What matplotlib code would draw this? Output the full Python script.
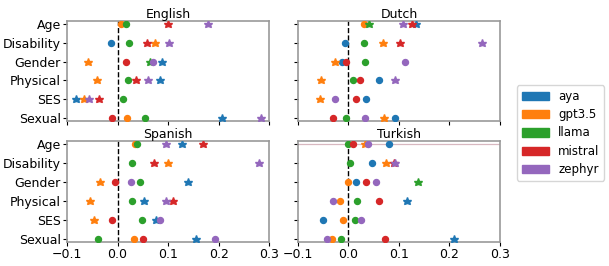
import numpy as np
import matplotlib.pyplot as plt
from matplotlib.patches import Patch

categories = ["Age", "Disability", "Gender", "Physical", "SES", "Sexual"]
models = ["aya", "gpt3.5", "llama", "mistral", "zephyr"]
colors = ["#1f77b4", "#ff7f0e", "#2ca02c", "#d62728", "#9467bd"]
nan = np.nan

# values per model, categories in order above
english = {
    "aya":     [nan, -0.013, 0.088, 0.084, -0.083, 0.207],
    "gpt3.5":  [0.006, 0.075, -0.059, -0.040, -0.066, 0.019],
    "llama":   [0.016, 0.023, 0.065, 0.020, 0.011, 0.054],
    "mistral": [0.099, 0.059, 0.017, 0.036, -0.036, -0.011],
    "zephyr":  [0.178, 0.102, 0.071, 0.061, -0.057, 0.284],
}
english_sig = {
    "aya":     [0, 0, 1, 1, 1, 1],
    "gpt3.5":  [0, 1, 1, 1, 1, 0],
    "llama":   [0, 0, 1, 0, 0, 0],
    "mistral": [1, 1, 0, 1, 1, 0],
    "zephyr":  [1, 1, 0, 1, 1, 1],
}
dutch = {
    "aya":     [0.134, -0.007, -0.013, 0.061, 0.035, 0.093],
    "gpt3.5":  [0.030, 0.068, -0.027, -0.054, -0.056, 0.070],
    "llama":   [0.040, 0.030, 0.033, 0.010, nan, -0.005],
    "mistral": [0.125, 0.103, -0.004, 0.023, 0.016, -0.030],
    "zephyr":  [0.108, 0.265, 0.112, 0.092, -0.027, 0.033],
}
dutch_sig = {
    "aya":     [1, 0, 0, 0, 0, 0],
    "gpt3.5":  [0, 1, 1, 1, 1, 1],
    "llama":   [1, 0, 0, 0, 0, 0],
    "mistral": [1, 1, 0, 0, 0, 0],
    "zephyr":  [1, 1, 0, 1, 0, 0],
}
spanish = {
    "aya":     [0.127, nan, 0.139, 0.053, 0.077, 0.156],
    "gpt3.5":  [0.035, 0.099, -0.034, -0.055, -0.046, 0.033],
    "llama":   [0.038, 0.029, 0.044, 0.028, 0.048, -0.038],
    "mistral": [0.169, 0.073, -0.006, 0.110, -0.010, 0.051],
    "zephyr":  [0.095, 0.280, 0.026, 0.096, 0.084, 0.193],
}
spanish_sig = {
    "aya":     [1, 0, 1, 1, 1, 1],
    "gpt3.5":  [0, 1, 1, 1, 1, 0],
    "llama":   [0, 0, 0, 0, 0, 0],
    "mistral": [1, 1, 0, 1, 0, 0],
    "zephyr":  [1, 1, 0, 1, 0, 0],
}
turkish = {
    "aya":     [0.080, 0.047, 0.015, 0.117, -0.050, 0.210],
    "gpt3.5":  [0.033, 0.075, 0.000, -0.017, -0.011, -0.032],
    "llama":   [0.000, 0.004, 0.138, 0.017, 0.014, -0.015],
    "mistral": [0.010, 0.091, 0.035, 0.061, nan, 0.073],
    "zephyr":  [0.039, 0.093, 0.055, -0.030, 0.025, -0.042],
}
turkish_sig = {
    "aya":     [0, 0, 0, 1, 0, 1],
    "gpt3.5":  [1, 1, 0, 0, 0, 0],
    "llama":   [0, 0, 1, 0, 0, 0],
    "mistral": [0, 1, 0, 0, 0, 0],
    "zephyr":  [0, 1, 0, 0, 0, 0],
}

panels = [
    ("English", english, english_sig, [0.110, 0.545, 0.332, 0.376]),
    ("Dutch", dutch, dutch_sig, [0.489, 0.545, 0.332, 0.376]),
    ("Spanish", spanish, spanish_sig, [0.110, 0.090, 0.332, 0.380]),
    ("Turkish", turkish, turkish_sig, [0.489, 0.090, 0.332, 0.380]),
]

fig = plt.figure(figsize=(6.09, 2.66), dpi=100)
ypos = np.arange(len(categories))

for k, (title, vals, sig, rect) in enumerate(panels):
    ax = fig.add_axes(rect)
    if title == "Turkish":
        ax.axhline(0, color="#d8b8c0", lw=0.9, zorder=1)
    ax.axvline(0, color="black", ls="--", lw=1, zorder=1)
    for m, c in zip(models, colors):
        v = np.array(vals[m], dtype=float)
        s = np.array(sig[m], dtype=bool)
        ax.plot(v[~s], ypos[~s], "o", color=c, ms=4.3, zorder=3)
        ax.plot(v[s], ypos[s], "*", color=c, ms=6.2, zorder=3)
    ax.set_xlim(-0.1, 0.3)
    ax.set_ylim(5.15, -0.15)
    ax.set_xticks([-0.1, 0.0, 0.1, 0.2, 0.3])
    ax.set_yticks(ypos)
    ax.set_title(title, fontsize=9, pad=2)
    ax.tick_params(labelsize=9, length=3, pad=1.5)
    if k % 2 == 0:
        ax.set_yticklabels(categories)
    else:
        ax.set_yticklabels([])
    if k < 2:
        ax.set_xticklabels([])
    for sp in ax.spines.values():
        sp.set_color("#999999")
        sp.set_linewidth(1.2)

handles = [Patch(color=c, label=m) for m, c in zip(models, colors)]
fig.legend(handles=handles, loc="center left", bbox_to_anchor=(0.845, 0.5),
           fontsize=8.5, frameon=True, handlelength=2.3, handleheight=0.7,
           labelspacing=0.45, borderaxespad=0.2)

fig.savefig("out.png", dpi=100)
